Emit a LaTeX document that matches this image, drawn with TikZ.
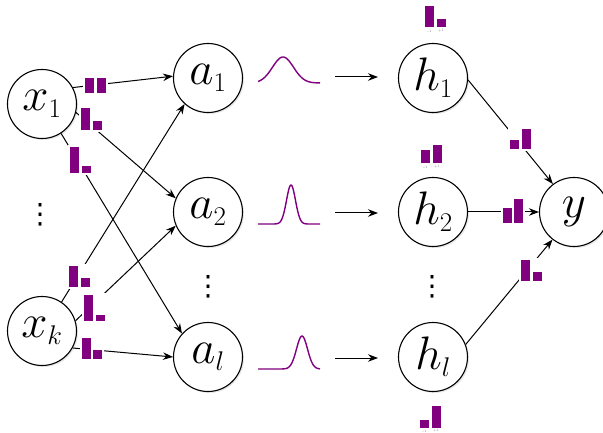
\RequirePackage{fix-cm}
\documentclass[tikz,border=0pt]{standalone}
\usepackage{fontspec}
\newfontfamily\dejavu{DejaVu Sans}
\usetikzlibrary{arrows.meta,shadows}
\DeclareMathSizes{47}{47}{27}{20}
\definecolor{barpurple}{RGB}{128,0,128}
\definecolor{lblgray}{RGB}{120,120,120}
\tikzset{
  neuron/.style={circle, draw=black, line width=1.1pt, fill=white,
    minimum size=69pt, inner sep=0pt, font=\fontsize{47}{52}\selectfont,
    drop shadow={opacity=0.18, shadow xshift=1.5pt, shadow yshift=-1.5pt}},
  conn/.style={line width=1pt, -{Stealth[length=10pt,width=7.5pt]}},
  gauss/.style={draw=barpurple, line width=1.4pt},
  tick/.style={font=\fontsize{3.5}{4}\selectfont, text=lblgray, inner sep=0pt},
  vdotsnode/.style={font=\dejavu\fontsize{28}{30}\selectfont, inner sep=0pt}
}
\newcommand\barpair[4]{%
  \pgfmathsetmacro\bpH{max(#3,#4)}%
  \fill[white] ({#1-2},{#2-\bpH-2}) rectangle ({#1+22.5},{#2+2});
  \fill[barpurple] (#1,{#2-#3}) rectangle ({#1+9},#2);
  \fill[barpurple] ({#1+11.5},{#2-#4}) rectangle ({#1+20.5},#2);
}
\begin{document}
\begin{tikzpicture}[x=1pt,y=-1pt]
\useasboundingbox (0,0) rectangle (603,433);
% neurons
\node[neuron] (x1) at (42,104) {$x_1$};
\node[neuron] (xk) at (42,331) {$x_k$};
\node[neuron] (a1) at (208,78) {$a_1$};
\node[neuron] (a2) at (208,212) {$a_2$};
\node[neuron] (al) at (208,357) {$a_l$};
\node[neuron] (h1) at (433,78) {$h_1$};
\node[neuron] (h2) at (433,212) {$h_2$};
\node[neuron] (hl) at (433,357) {$h_l$};
\node[neuron] (y) at (574,212) {$y$};
% vertical dots
\node[vdotsnode] (d1) at (40,215) {⋮};
\node[vdotsnode] (d2) at (208,287) {⋮};
\node[vdotsnode] (d3) at (432,287) {⋮};
% connectors
\draw[conn] (x1.28) -- (a1.177);
\draw[conn] (x1.-14) -- (a2.157);
\draw[conn] (x1.-57) -- (al.138);
\draw[conn] (xk.56) -- (a1.228);
\draw[conn] (xk.17) -- (a2.203);
\draw[conn] (xk.-29) -- (al.180);
\draw[conn] (h1.-3) -- (y.127);
\draw[conn] (h2.east) -- (y.west);
\draw[conn] (hl.21) -- (y.232);
% gaussians
\draw[gauss] plot[domain=258:320, samples=80, smooth] (\x,{83-26*exp(-((\x-283)^2)/(2*10.5*10.5))});
\draw[gauss] plot[domain=258:320, samples=120, smooth] (\x,{224-39*exp(-((\x-291)^2)/(2*4.5*4.5))});
\draw[gauss] plot[domain=258:320, samples=120, smooth] (\x,{369-33*exp(-((\x-302)^2)/(2*5.5*5.5))});
% activation arrows
\coordinate (g1s) at (335,77); \coordinate (g1e) at (378,77);
\coordinate (g2s) at (335,213); \coordinate (g2e) at (378,213);
\coordinate (g3s) at (335,358); \coordinate (g3e) at (378,358);
\draw[conn] (g1s) -- (g1e);
\draw[conn] (g2s) -- (g2e);
\draw[conn] (g3s) -- (g3e);
% bar charts on connectors
\barpair{85}{93}{15}{15}
\barpair{81}{130}{22}{9}
\barpair{70}{173}{26}{7}
\barpair{69}{286.7}{21}{9}
\barpair{84.3}{320.7}{26}{6}
\barpair{81.7}{359.3}{21}{9}
\barpair{510}{149.3}{9}{20}
\barpair{502.7}{223.3}{15}{24}
\barpair{521}{280.7}{21}{9}
% bar charts at hidden units
\barpair{425}{27}{21}{8}
\node[tick] (t1a) at (429.5,31) {-1};
\node[tick] (t1b) at (441,31) {+1};
\barpair{421}{163}{13}{18}
\node[tick] (t2a) at (425.5,167) {-1};
\node[tick] (t2b) at (437,167) {+1};
\barpair{420}{428}{8}{22}
\node[tick] (t3a) at (424.5,431) {-1};
\node[tick] (t3b) at (436,431) {+1};
\end{tikzpicture}
\end{document}
